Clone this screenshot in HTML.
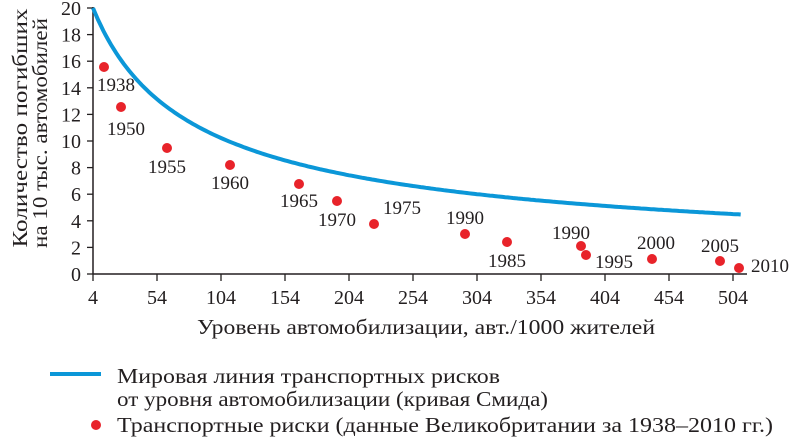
<!DOCTYPE html><html><head><meta charset="utf-8"><style>
body{margin:0;background:#fff}
svg text{font-family:"Liberation Serif",serif;fill:#231f20}
</style></head><body>
<svg width="789" height="437" viewBox="0 0 789 437" xmlns="http://www.w3.org/2000/svg">
<g stroke="#231f20" stroke-width="1.5" fill="none">
<line x1="93" y1="7" x2="93" y2="274"/>
<line x1="93" y1="274" x2="747" y2="274"/>
</g>
<g id="ticks" stroke="#231f20" stroke-width="1.3"></g>
<g id="labels" font-size="20"></g>
<path id="curve" fill="none" stroke="#0b97d8" stroke-width="4"/>
<g id="pts" fill="#e8232a"></g>
<g font-size="19" text-anchor="middle">
<text x="116" y="91">1938</text><text x="126" y="135">1950</text><text x="167" y="173">1955</text>
<text x="230" y="189">1960</text><text x="299" y="207">1965</text><text x="337" y="226">1970</text>
<text x="402" y="214">1975</text><text x="465" y="224">1990</text><text x="507" y="267">1985</text>
<text x="571" y="239">1990</text><text x="614" y="268">1995</text><text x="656" y="249">2000</text>
<text x="720" y="252">2005</text><text x="770" y="272">2010</text>
</g>
<text x="197" y="334" font-size="21" textLength="458" lengthAdjust="spacingAndGlyphs">Уровень автомобилизации, авт./1000 жителей</text>
<g transform="rotate(-90)" font-size="21" text-anchor="middle">
<text x="-128" y="27" textLength="239" lengthAdjust="spacingAndGlyphs">Количество погибших</text>
<text x="-133" y="47" textLength="230" lengthAdjust="spacingAndGlyphs">на 10 тыс. автомобилей</text>
</g>
<line x1="50" y1="374" x2="101" y2="374" stroke="#0b97d8" stroke-width="4"/>
<circle cx="96" cy="425" r="5" fill="#e8232a"/>
<g font-size="21">
<text x="117" y="383" textLength="383" lengthAdjust="spacingAndGlyphs">Мировая линия транспортных рисков</text>
<text x="117" y="406" textLength="431" lengthAdjust="spacingAndGlyphs">от уровня автомобилизации (кривая Смида)</text>
<text x="117" y="432" textLength="656" lengthAdjust="spacingAndGlyphs">Транспортные риски (данные Великобритании за 1938–2010 гг.)</text>
</g>
</svg>
<script>
var X=v=>93+(v-4)*1.28, Y=v=>274-v*13.3;
var t='',l='';
for(var i=0;i<=10;i++){var y=Y(i*2);t+='<line x1="87" y1="'+y+'" x2="93" y2="'+y+'"/>';l+='<text x="81" y="'+(y+7)+'" text-anchor="end">'+(i*2)+'</text>';}
for(var i=0;i<=10;i++){var x=X(4+i*50);t+='<line x1="'+x+'" y1="274" x2="'+x+'" y2="281"/>';l+='<text x="'+x+'" y="304" text-anchor="middle">'+(4+i*50)+'</text>';}
document.getElementById('ticks').innerHTML=t;document.getElementById('labels').innerHTML=l;
var d='';for(var v=4;v<=511;v+=2){var val=20*Math.pow((v+50)/54,-0.64);d+=(v==4?'M':'L')+X(v).toFixed(1)+','+Y(val).toFixed(1);}
document.getElementById('curve').setAttribute('d',d);
var p=[[104,67],[121,107],[167,148],[230,165],[299,184],[337,201],[374,224],[465,234],[507,242],[581,246],[586,255],[652,259],[720,261],[739,268]];
document.getElementById('pts').innerHTML=p.map(a=>'<circle cx="'+a[0]+'" cy="'+a[1]+'" r="5"/>').join('');
</script>
</body></html>
